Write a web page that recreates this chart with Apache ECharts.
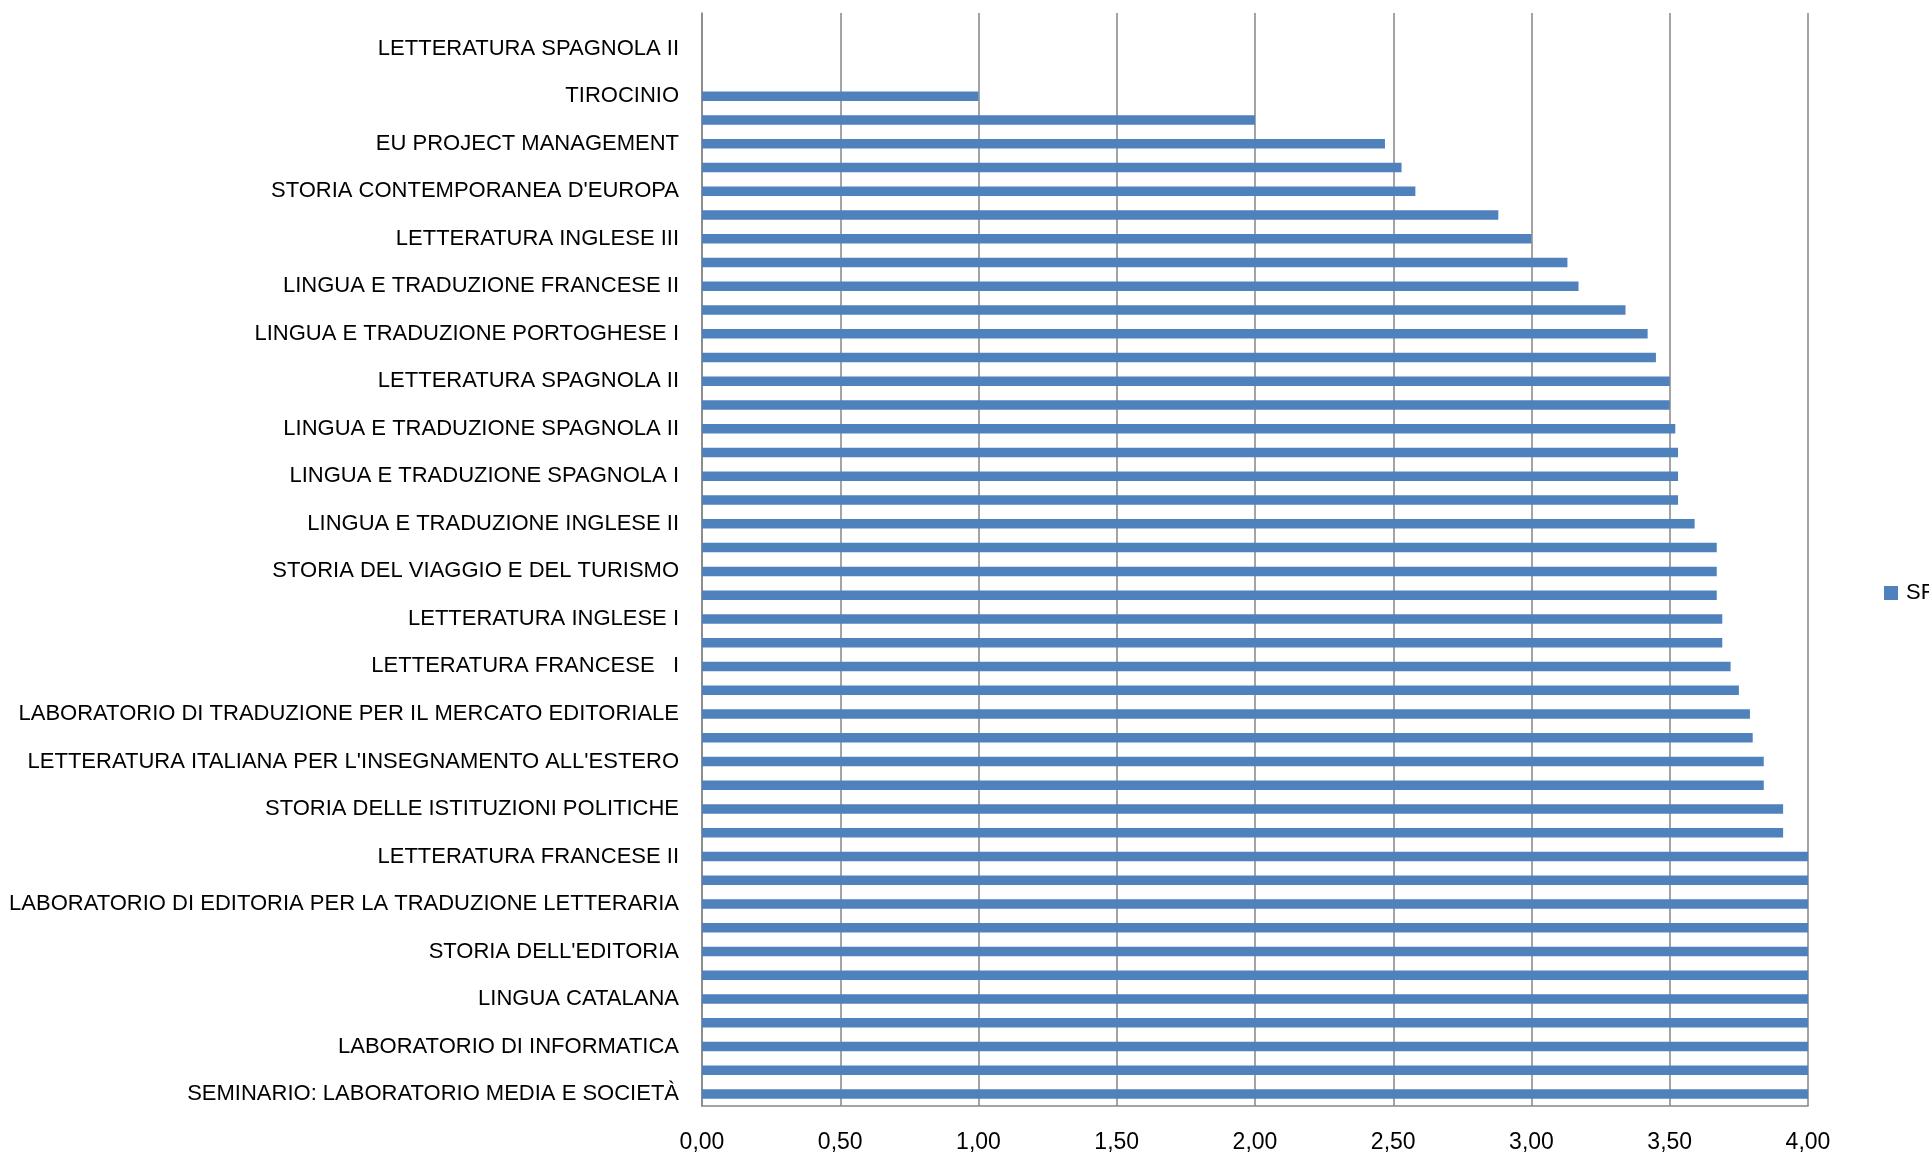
<!DOCTYPE html>
<html>
<head>
<meta charset="utf-8">
<title>SF</title>
<script src="https://cdn.jsdelivr.net/npm/echarts@6/dist/echarts.min.js"></script>
<style>
  html, body { margin: 0; padding: 0; background: #fff; }
  #chart { width: 1929px; height: 1154px; }
</style>
</head>
<body>
<div id="chart"></div>
<script>
  // categories listed top to bottom, '' = row without a visible label
  var courses = [
    '', 'LETTERATURA SPAGNOLA II', '', 'TIROCINIO', '', 'EU PROJECT MANAGEMENT',
    '', "STORIA CONTEMPORANEA D'EUROPA", '', 'LETTERATURA INGLESE III',
    '', 'LINGUA E TRADUZIONE FRANCESE II', '', 'LINGUA E TRADUZIONE PORTOGHESE I',
    '', 'LETTERATURA SPAGNOLA II', '', 'LINGUA E TRADUZIONE SPAGNOLA II',
    '', 'LINGUA E TRADUZIONE SPAGNOLA I', '', 'LINGUA E TRADUZIONE INGLESE II',
    '', 'STORIA DEL VIAGGIO E DEL TURISMO', '', 'LETTERATURA INGLESE I',
    '', 'LETTERATURA FRANCESE   I', '', 'LABORATORIO DI TRADUZIONE PER IL MERCATO EDITORIALE',
    '', "LETTERATURA ITALIANA PER L'INSEGNAMENTO ALL'ESTERO", '', 'STORIA DELLE ISTITUZIONI POLITICHE',
    '', 'LETTERATURA FRANCESE II', '', 'LABORATORIO DI EDITORIA PER LA TRADUZIONE LETTERARIA',
    '', "STORIA DELL'EDITORIA", '', 'LINGUA CATALANA',
    '', 'LABORATORIO DI INFORMATICA', '', 'SEMINARIO: LABORATORIO MEDIA E SOCIETÀ'
  ]
  var sfValues = [
    0, 0, 0, 1.00, 2.00, 2.47,
    2.53, 2.58, 2.88, 3.00,
    3.13, 3.17, 3.34, 3.42,
    3.45, 3.50, 3.50, 3.52,
    3.53, 3.53, 3.53, 3.59,
    3.67, 3.67, 3.67, 3.69,
    3.69, 3.72, 3.75, 3.79,
    3.80, 3.84, 3.84, 3.91,
    3.91, 4.00, 4.00, 4.00,
    4.00, 4.00, 4.00, 4.00,
    4.00, 4.00, 4.00, 4.00
  ]
  var seriesName = 'SF'
  var xMin = 0
  var xMax = 4
  var xStep = 0.5

  var font = '"Liberation Sans", Arial, sans-serif'
  var chart = echarts.init(document.getElementById('chart'))
  chart.setOption({
    animation: false,
    textStyle: { fontFamily: font },
    legend: {
      data: [seriesName],
      left: 1879,
      top: 577,
      itemWidth: 14,
      itemHeight: 14,
      icon: 'rect',
      textStyle: { color: '#000', fontSize: 22, fontFamily: font, padding: [0, 0, 0, 3] }
    },
    grid: {
      left: 702,
      top: 13,
      width: 1106,
      height: 1093,
      containLabel: false
    },
    xAxis: {
      type: 'value',
      min: xMin,
      max: xMax,
      interval: xStep,
      axisLine: { show: true, lineStyle: { color: '#868686', width: 1.5 } },
      axisTick: { show: false },
      splitLine: { show: true, lineStyle: { color: '#868686', width: 1.5 } },
      axisLabel: {
        color: '#000',
        fontSize: 23,
        fontFamily: font,
        margin: 25,
        formatter: function (v) { return v.toFixed(2).replace('.', ',') }
      }
    },
    yAxis: {
      type: 'category',
      inverse: true,
      data: courses,
      axisLine: { show: true, lineStyle: { color: '#868686', width: 1.5 } },
      axisTick: { show: false },
      splitLine: { show: false },
      axisLabel: {
        interval: 0,
        color: '#000',
        fontSize: 22,
        fontFamily: font,
        margin: 23
      }
    },
    series: [
      {
        name: seriesName,
        type: 'bar',
        data: sfValues,
        barWidth: '40%',
        itemStyle: { color: '#4F81BD' }
      }
    ]
  })
</script>
</body>
</html>
